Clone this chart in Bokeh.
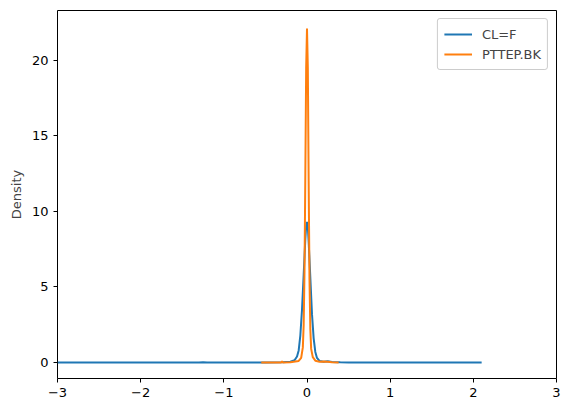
from bokeh.plotting import figure
from bokeh.models import Range1d, FixedTicker, Legend, LegendItem
from bokeh.embed import file_html
from bokeh.resources import INLINE

# CL=F density estimate
cl_x = [-3.0, -2.5, -2.0, -1.5, -1.3, -1.25, -1.2, -1.0, -0.5, -0.3, -0.2, -0.15, -0.12, -0.1, -0.08,
        -0.06, -0.04, -0.02, -0.01, 0.0, 0.01, 0.02, 0.04, 0.06, 0.08, 0.1, 0.12, 0.15,
        0.2, 0.25, 0.3, 0.4, 0.5, 1.0, 1.5, 2.1]
cl_y = [0.0, 0.0, 0.0, 0.0, 0.005, 0.015, 0.005, 0.0, 0.0, 0.01, 0.05, 0.15, 0.4, 0.8, 1.8,
        3.5, 5.8, 8.2, 9.0, 9.3, 9.0, 8.0, 5.6, 3.2, 1.6, 0.7, 0.3, 0.1,
        0.05, 0.08, 0.04, 0.01, 0.0, 0.0, 0.0, 0.0]

# PTTEP.BK density estimate
pt_x = [-0.55, -0.4, -0.31, -0.3, -0.29, -0.2, -0.1, -0.07, -0.05, -0.04, -0.03, -0.02, -0.01,
        0.0, 0.01, 0.02, 0.03, 0.04, 0.05, 0.07, 0.1, 0.15, 0.2, 0.25, 0.3, 0.38]
pt_y = [0.0, 0.0, 0.0, 0.08, 0.0, 0.02, 0.1, 0.3, 1.0, 2.5, 6.0, 12.5, 19.5,
        22.1, 19.5, 12.0, 5.5, 2.2, 0.9, 0.35, 0.12, 0.05, 0.06, 0.05, 0.02, 0.0]

x_ticks = [-3, -2, -1, 0, 1, 2, 3]
y_ticks = [0, 5, 10, 15, 20]

FONT = "DejaVu Sans"

p = figure(width=566, height=412, output_backend="svg", toolbar_location=None,
           x_range=Range1d(-3, 3), y_range=Range1d(-1.06, 23.3),
           min_border_left=57, min_border_right=10, min_border_top=10, min_border_bottom=34)

p.xgrid.visible = False
p.ygrid.visible = False
p.outline_line_color = "black"
p.outline_line_width = 1
p.outline_line_alpha = 1.0

for ax in (p.xaxis[0], p.yaxis[0]):
    ax.axis_line_color = None
    ax.major_tick_line_color = "black"
    ax.major_tick_out = 4
    ax.major_tick_in = 0
    ax.minor_tick_line_color = None
    ax.major_label_text_font = FONT
    ax.major_label_text_font_size = "13px"
    ax.major_label_text_color = "black"
    ax.axis_label_text_font = FONT
    ax.axis_label_text_font_size = "13px"
    ax.axis_label_text_font_style = "normal"

p.xaxis.ticker = FixedTicker(ticks=x_ticks)
p.yaxis.ticker = FixedTicker(ticks=y_ticks)
p.yaxis.axis_label = "Density"
p.yaxis.major_label_orientation = "horizontal"

r1 = p.line(cl_x, cl_y, line_color="#1f77b4", line_width=2)
r2 = p.line(pt_x, pt_y, line_color="#ff7f0e", line_width=2)

legend = Legend(items=[LegendItem(label="CL=F", renderers=[r1]),
                       LegendItem(label="PTTEP.BK", renderers=[r2])],
                location="top_right")
legend.label_text_font = FONT
legend.label_text_font_size = "13px"
legend.border_line_color = "#cccccc"
legend.border_line_alpha = 1.0
legend.background_fill_alpha = 0.8
legend.border_radius = 3
legend.glyph_width = 28
legend.glyph_height = 18
legend.label_standoff = 10
legend.spacing = 2
legend.padding = 6
legend.margin = 8
p.add_layout(legend)

open("out.html", "w").write(file_html(p, INLINE))
